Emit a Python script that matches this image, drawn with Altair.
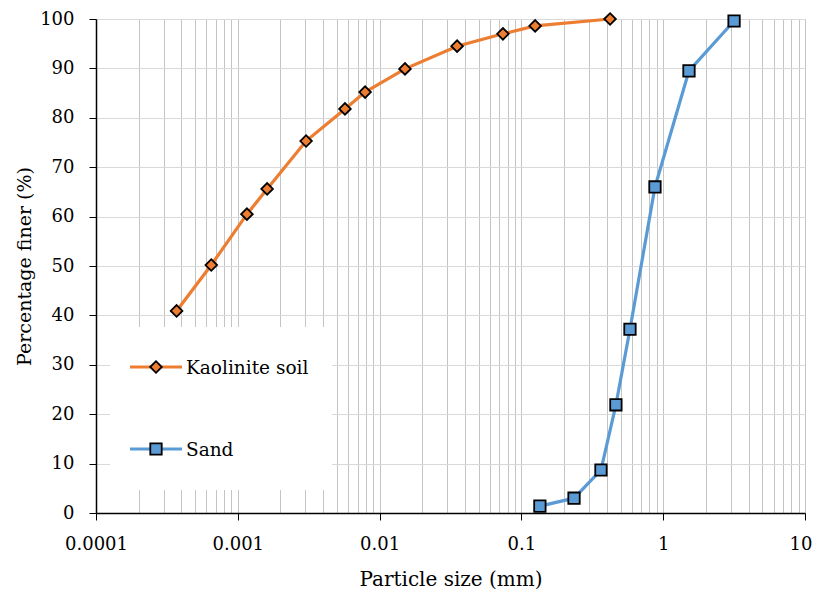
import altair as alt
import pandas as pd

# ---- data ----
kaolinite_size = [0.00037, 0.00065, 0.00116, 0.00161, 0.00303, 0.0057, 0.0079,
                  0.0151, 0.0352, 0.0741, 0.125, 0.422]
kaolinite_finer = [40.9, 50.2, 60.5, 65.6, 75.3, 81.8, 85.2, 89.9, 94.5, 97.0, 98.6, 100.0]

sand_size = [0.135, 0.235, 0.364, 0.464, 0.583, 0.875, 1.52, 3.16]
sand_finer = [1.4, 3.0, 8.7, 21.9, 37.2, 66.0, 89.5, 99.6]

series_names = ["Kaolinite soil", "Sand"]
series_colors = ["#ED7D31", "#5B9BD5"]
series_shapes = ["diamond", "square"]

x_decades = [0.0001, 0.001, 0.01, 0.1, 1, 10]
y_ticks = [0, 10, 20, 30, 40, 50, 60, 70, 80, 90, 100]

# all log grid positions (1..9 x each decade)
x_grid = []
for d in x_decades[:-1]:
    for m in range(1, 10):
        x_grid.append(round(m * d, 6))
x_grid.append(10)

df = pd.concat([
    pd.DataFrame({"series": series_names[0], "size": kaolinite_size, "finer": kaolinite_finer}),
    pd.DataFrame({"series": series_names[1], "size": sand_size, "finer": sand_finer}),
], ignore_index=True)

FONT = "DejaVu Serif"
is_decade = "abs(log(datum.value)/LN10 - round(log(datum.value)/LN10)) < 1e-6"

x_scale = alt.Scale(type="log", domain=[0.0001, 10], nice=False)
y_scale = alt.Scale(domain=[0, 100], nice=False)

x_axis = alt.Axis(
    values=x_grid, format=".4~f", labelExpr=f"{is_decade} ? datum.label : ''",
    labelFlush=False, labelOverlap=False, title="Particle size (mm)",
    grid=True, gridColor="#c4c4c4", gridWidth=1,
    tickOpacity={"condition": {"test": is_decade, "value": 1}, "value": 0},
    labelAlign={"condition": {"test": "datum.value >= 10", "value": "right"}, "value": "center"},
    labelOffset={"condition": {"test": "datum.value >= 10", "value": 7}, "value": 0},
    tickColor="black", tickSize=7, domainColor="black", domainWidth=1.5,
    labelFont=FONT, labelFontSize=18, labelColor="black", labelPadding=15,
    titleFont=FONT, titleFontSize=20, titleFontWeight="normal", titleColor="black",
    titlePadding=16,
)
y_axis = alt.Axis(
    values=y_ticks, title="Percentage finer (%)",
    grid=True, gridColor="#d9d9d9", gridWidth=1,
    tickColor="black", tickSize=7, domainColor="black", domainWidth=1.5,
    labelFont=FONT, labelFontSize=18, labelColor="black", labelPadding=15,
    titleFont=FONT, titleFontSize=19, titleFontWeight="normal", titleColor="black",
    titlePadding=5,
)

color = alt.Color("series:N", scale=alt.Scale(domain=series_names, range=series_colors), legend=None)
shape = alt.Shape("series:N", scale=alt.Scale(domain=series_names, range=series_shapes), legend=None)

base = alt.Chart(df).encode(
    x=alt.X("size:Q", scale=x_scale, axis=x_axis),
    y=alt.Y("finer:Q", scale=y_scale, axis=y_axis),
)

lines = base.mark_line(strokeWidth=3.2).encode(color=color, detail="series:N")
points = base.mark_point(filled=True, stroke="black", strokeWidth=1.8, opacity=1).encode(
    fill=alt.Fill("series:N", scale=alt.Scale(domain=series_names, range=series_colors), legend=None),
    shape=shape,
    size=alt.condition(alt.datum.series == "Sand", alt.value(130), alt.value(135)),
)

# ---- manual legend (box + entries) ----
one = pd.DataFrame({"k": [0]})
leg_box = alt.Chart(one).mark_rect(fill="white").encode(
    x=alt.value(14), x2=alt.value(236), y=alt.value(308), y2=alt.value(471))

def legend_entry(i, ypix, size):
    line = alt.Chart(one).mark_rule(color=series_colors[i], strokeWidth=3.2).encode(
        x=alt.value(34), x2=alt.value(86), y=alt.value(ypix))
    pt = alt.Chart(one).mark_point(filled=True, fill=series_colors[i], stroke="black",
                                   strokeWidth=1.8, opacity=1, shape=series_shapes[i],
                                   size=size).encode(x=alt.value(60), y=alt.value(ypix))
    txt = alt.Chart(one).mark_text(text=series_names[i], align="left", baseline="middle",
                                   font=FONT, fontSize=18.5, color="black").encode(
        x=alt.value(90), y=alt.value(ypix + 1))
    return [line, pt, txt]

legend_layers = legend_entry(0, 348, 135) + legend_entry(1, 430, 130)

chart = alt.layer(lines, leg_box, *legend_layers, points).properties(
    width=709, height=494,
    autosize=alt.AutoSizeParams(type="none"),
    padding={"left": 88, "top": 11, "right": 7, "bottom": 76},
).configure_view(stroke="#7f7f7f", strokeWidth=1).configure(background="white")

chart.save("out.html", embed_options={"renderer": "svg", "actions": False})
